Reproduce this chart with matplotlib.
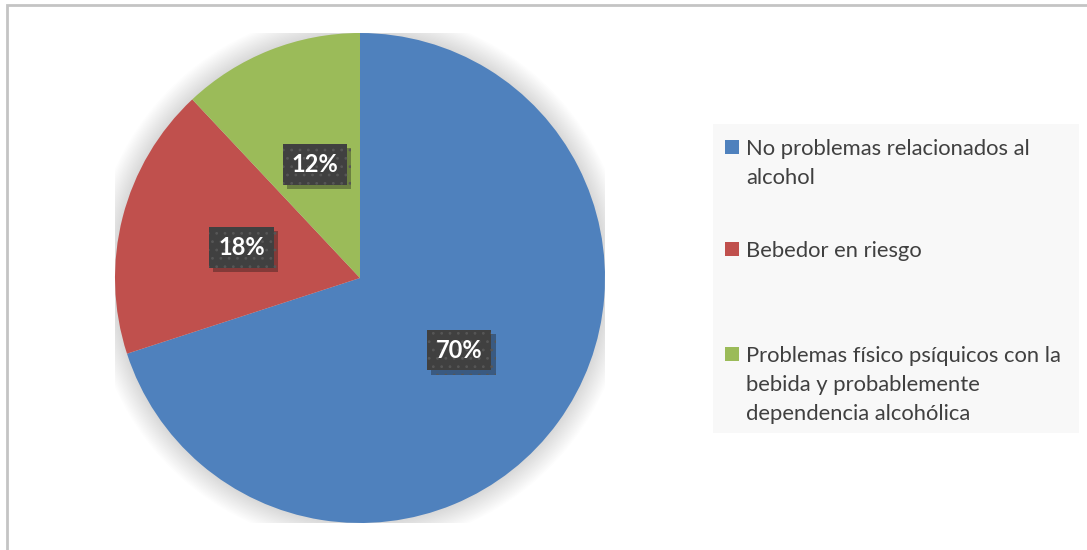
import matplotlib.pyplot as plt
from matplotlib.patches import Circle, Rectangle
import matplotlib.patheffects as pe

plt.rcParams['font.family'] = ['Lato', 'DejaVu Sans']
plt.rcParams['hatch.linewidth'] = 0.8

categories = [
    "No problemas relacionados al\nalcohol",
    "Bebedor en riesgo",
    "Problemas físico psíquicos con la\nbebida y probablemente\ndependencia alcohólica",
]
values = [70, 18, 12]
colors = ["#4F81BD", "#C0504D", "#9BBB59"]

W, H = 1087, 550
fig = plt.figure(figsize=(W / 100, H / 100), dpi=100)
ax = fig.add_axes([115 / W, 27 / H, 490 / W, 490 / H])

# soft glow behind the pie
for k in range(20):
    ax.add_patch(Circle((0, 0), 1 + 0.005 * k, color="#000000",
                        alpha=0.007, lw=0, zorder=0))

wedges, texts, autotexts = ax.pie(
    values, colors=colors, startangle=90, counterclock=False,
    autopct="%d%%", pctdistance=0.5, radius=1,
    wedgeprops=dict(linewidth=0, zorder=1),
    textprops=dict(color="white", fontsize=17, fontweight="bold"),
)
for t in autotexts:
    t.set_bbox(dict(boxstyle="square,pad=0.38", fc="#404040", ec="#565656",
                    lw=0, hatch=".."))
    t.get_bbox_patch().set_path_effects(
        [pe.SimplePatchShadow(offset=(3, -3), alpha=0.35), pe.Normal()])
    t.set_zorder(5)

ax.set_xlim(-1.0, 1.0)
ax.set_ylim(-1.0, 1.0)
ax.set_aspect("equal")
ax.axis("off")

# legend panel on the right
fig.add_artist(Rectangle((713 / W, 1 - 433 / H), 366 / W, 309 / H,
                         transform=fig.transFigure, fc="#f8f8f8", lw=0))
first_baselines = [155, 257, 362]
line_step = 29
for label, color, base in zip(categories, colors, first_baselines):
    fig.add_artist(Rectangle((725 / W, 1 - (base - 1) / H), 14 / W, 14 / H,
                             transform=fig.transFigure, fc=color, lw=0))
    for i, line in enumerate(label.split("\n")):
        fig.text(746 / W, 1 - (base + i * line_step) / H, line,
                 fontsize=15.8, color="#404040", va="baseline", ha="left")

# chart border (top and left edges)
fig.add_artist(Rectangle((7 / W, -0.1), 2, 1.1 - 5 / H,
                         transform=fig.transFigure, fill=False,
                         ec="#c4c4c4", lw=2))

fig.savefig("out.png", dpi=100)
